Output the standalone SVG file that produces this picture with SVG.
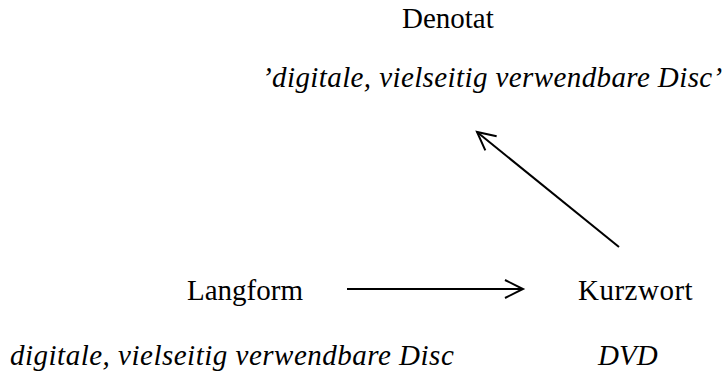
<svg xmlns="http://www.w3.org/2000/svg" width="724" height="376" viewBox="0 0 724 376">
<defs>
  <marker id="arr" markerUnits="userSpaceOnUse" markerWidth="22" markerHeight="22" refX="19" refY="10" orient="auto">
    <path d="M1,1 L19,10 L1,19" fill="none" stroke="#000" stroke-width="2"/>
  </marker>
</defs>
<rect width="724" height="376" fill="#fff"/>
<g id="denotat" font-family="'Liberation Serif'" font-size="29" fill="#000">
  <text x="402" y="28">Denotat</text>
  <text x="262" y="87" font-style="italic" letter-spacing="0.4">’digitale, vielseitig verwendbare Disc’</text>
</g>
<g id="langform" font-family="'Liberation Serif'" font-size="29" fill="#000">
  <text x="187" y="300">Langform</text>
  <text x="10" y="365" font-style="italic" letter-spacing="0.5">digitale, vielseitig verwendbare Disc</text>
</g>
<g id="kurzwort" font-family="'Liberation Serif'" font-size="29" fill="#000">
  <text x="578" y="300" letter-spacing="0.5">Kurzwort</text>
  <text x="598" y="365" font-style="italic">DVD</text>
</g>
<g id="connectors" stroke="#000" stroke-width="2" fill="none">
  <line x1="347" y1="289" x2="523" y2="289" marker-end="url(#arr)"/>
  <line x1="619" y1="247" x2="477" y2="132" marker-end="url(#arr)"/>
</g>
</svg>
